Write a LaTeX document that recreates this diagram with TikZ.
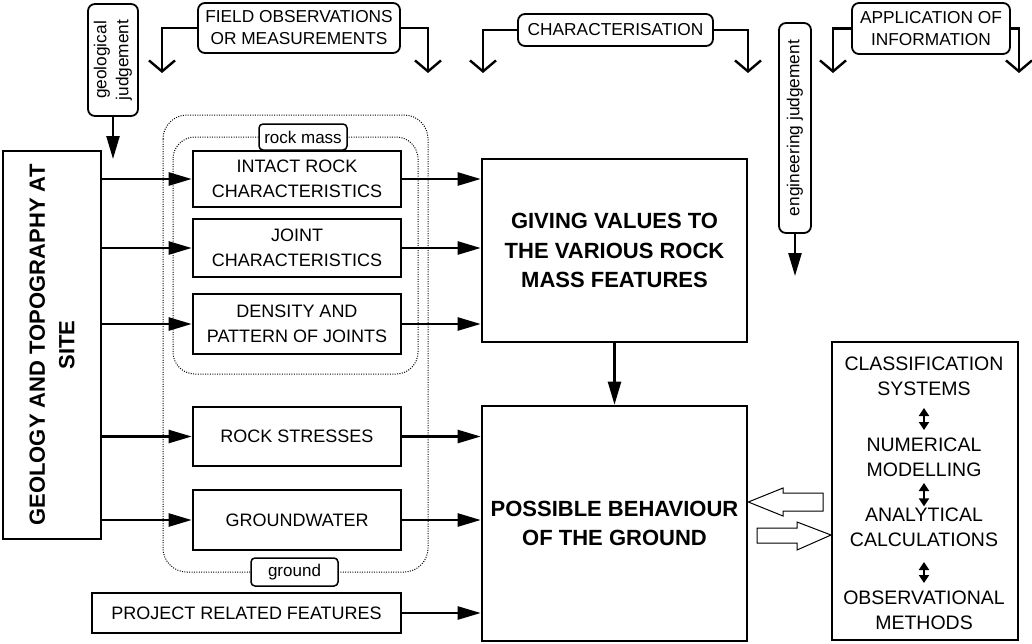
\documentclass[tikz,border=0pt]{standalone}
\usepackage{fontspec}
\setmainfont{Liberation Sans}
\usetikzlibrary{arrows.meta}
\begin{document}
\begin{tikzpicture}[x=1pt,y=-1pt,
  box/.style={draw, line width=2.6pt, align=center, inner sep=0pt,
    font=\fontsize{18}{24.5}\selectfont},
  bigbox/.style={draw, line width=2.6pt, align=center, inner sep=0pt,
    font=\fontsize{22}{29.5}\bfseries\selectfont},
  tag/.style={draw, line width=1.8pt, rounded corners=7pt, align=center,
    inner sep=0pt, fill=white, font=\fontsize{17.3}{22}\selectfont},
  smalltag/.style={draw, line width=1.5pt, rounded corners=4pt, align=center,
    inner sep=0pt, fill=white, font=\fontsize{17}{20}\selectfont},
  item/.style={align=center, inner sep=0pt, font=\fontsize{19.5}{25}\selectfont},
  arr/.style={line width=2.4pt, -{Triangle[length=23pt,width=13pt]}},
  brace/.style={line width=2.4pt, -{Straight Barb[length=11pt,width=26pt]}},
  dbl/.style={line width=2pt, {Triangle[length=8pt,width=10pt]}-{Triangle[length=8pt,width=10pt]}},
  group/.style={line width=1pt, dash pattern=on 1pt off 1.4pt},
  blockarrow/.style={draw, line width=1pt, fill=white}
]
\useasboundingbox (0,0) rectangle (1032,643);

% grouping outlines: ground and rock mass
\draw[group, rounded corners=24pt] (163,115) rectangle (428,572);
\draw[group, rounded corners=22pt] (173,137) rectangle (418,374);
\node[smalltag, minimum width=88pt, minimum height=26pt] (rm) at (303,137) {rock mass};
\node[smalltag, minimum width=87pt, minimum height=28pt] (gr) at (294.5,572) {ground};

% stage labels along the top
\node[tag, minimum width=202pt, minimum height=50pt] (fo) at (299,28) {FIELD OBSERVATIONS\\OR MEASUREMENTS};
\node[tag, minimum width=195pt, minimum height=32pt] (ch) at (615.5,30) {CHARACTERISATION};
\node[tag, minimum width=158pt, minimum height=51pt] (ap) at (931,28.5) {APPLICATION OF\\INFORMATION};

\coordinate (foL) at (162,73); \coordinate (foR) at (428,73);
\coordinate (chL) at (483,73); \coordinate (chR) at (748,73);
\coordinate (apL) at (833,73); \coordinate (apR) at (1019,73);
\draw[brace] (fo.west) -| (foL);
\draw[brace] (fo.east) -| (foR);
\draw[brace] (ch.west) -| (chL);
\draw[brace] (ch.east) -| (chR);
\draw[brace] (ap.west) -| (apL);
\draw[brace] (ap.east) -| (apR);

% judgement labels
\node[tag, rotate=90, minimum width=112pt, minimum height=50pt] (gj) at (113,60) {geological\\judgement};
\coordinate (gjend) at (113,159);
\draw[arr] (gj.west) -- (gjend);
\node[tag, rotate=90, minimum width=210pt, minimum height=32pt] (ej) at (795,128) {engineering judgement};
\coordinate (ejend) at (795,276);
\draw[arr] (ej.west) -- (ejend);

% site geology
\node[bigbox, rotate=90, minimum width=388pt, minimum height=98pt] (geo) at (52,345)
  {GEOLOGY AND TOPOGRAPHY AT\\SITE};

% ground features
\node[box, minimum width=208pt, minimum height=56pt] (i1) at (297,179) {INTACT ROCK\\CHARACTERISTICS};
\node[box, minimum width=208pt, minimum height=58pt] (i2) at (297,248) {JOINT\\CHARACTERISTICS};
\node[box, minimum width=208pt, minimum height=60pt] (i3) at (297,324) {DENSITY AND\\PATTERN OF JOINTS};
\node[box, minimum width=208pt, minimum height=59pt] (i4) at (297,436.5) {ROCK STRESSES};
\node[box, minimum width=208pt, minimum height=60pt] (i5) at (297,520) {GROUNDWATER};
\node[box, line width=1.3pt, minimum width=309pt, minimum height=40pt] (prf) at (246.5,613) {PROJECT RELATED FEATURES};

% main stages
\node[bigbox, minimum width=265pt, minimum height=183pt] (gv) at (614.5,250.5)
  {GIVING VALUES TO\\THE VARIOUS ROCK\\MASS FEATURES};
\node[bigbox, minimum width=265pt, minimum height=235pt] (pb) at (614.5,523.5)
  {POSSIBLE BEHAVIOUR\\OF THE GROUND};

% methods
\node[draw, line width=2pt, minimum width=186pt, minimum height=298pt] (rb) at (925,491) {};
\node[item] (c1) at (924,376) {CLASSIFICATION\\SYSTEMS};
\node[item] (c2) at (924,457) {NUMERICAL\\MODELLING};
\node[item] (c3) at (924,527) {ANALYTICAL\\CALCULATIONS};
\node[item] (c4) at (924,610) {OBSERVATIONAL\\METHODS};
\draw[dbl, shorten <=12.4pt, shorten >=7.4pt] (c1.south) -- (c2.north);
\draw[dbl, shorten <=6.4pt, shorten >=1pt] (c2.south) -- (c3.north);
\draw[dbl, shorten <=15.4pt, shorten >=7.4pt] (c3.south) -- (c4.north);

% flows from the site
\foreach \t in {i1,i2,i3,i4,i5}
  \draw[arr] (geo.south |- \t.west) -- (\t.west);
\foreach \t in {i1,i2,i3}
  \draw[arr] (\t.east) -- (gv.west |- \t.east);
\foreach \t in {i4,i5,prf}
  \draw[arr] (\t.east) -- (pb.west |- \t.east);
\draw[arr] (gv.south) -- (pb.north);

% exchange between behaviour and methods
\draw[blockarrow] (823,493) -- (783,493) -- (783,488) -- (pb.east |- 0,502)
  -- (783,516) -- (783,511) -- (823,511) -- cycle;
\draw[blockarrow] (757,528) -- (797,528) -- (797,522) -- (rb.west |- 0,535)
  -- (797,550) -- (797,543) -- (757,543) -- cycle;
\end{tikzpicture}
\end{document}
